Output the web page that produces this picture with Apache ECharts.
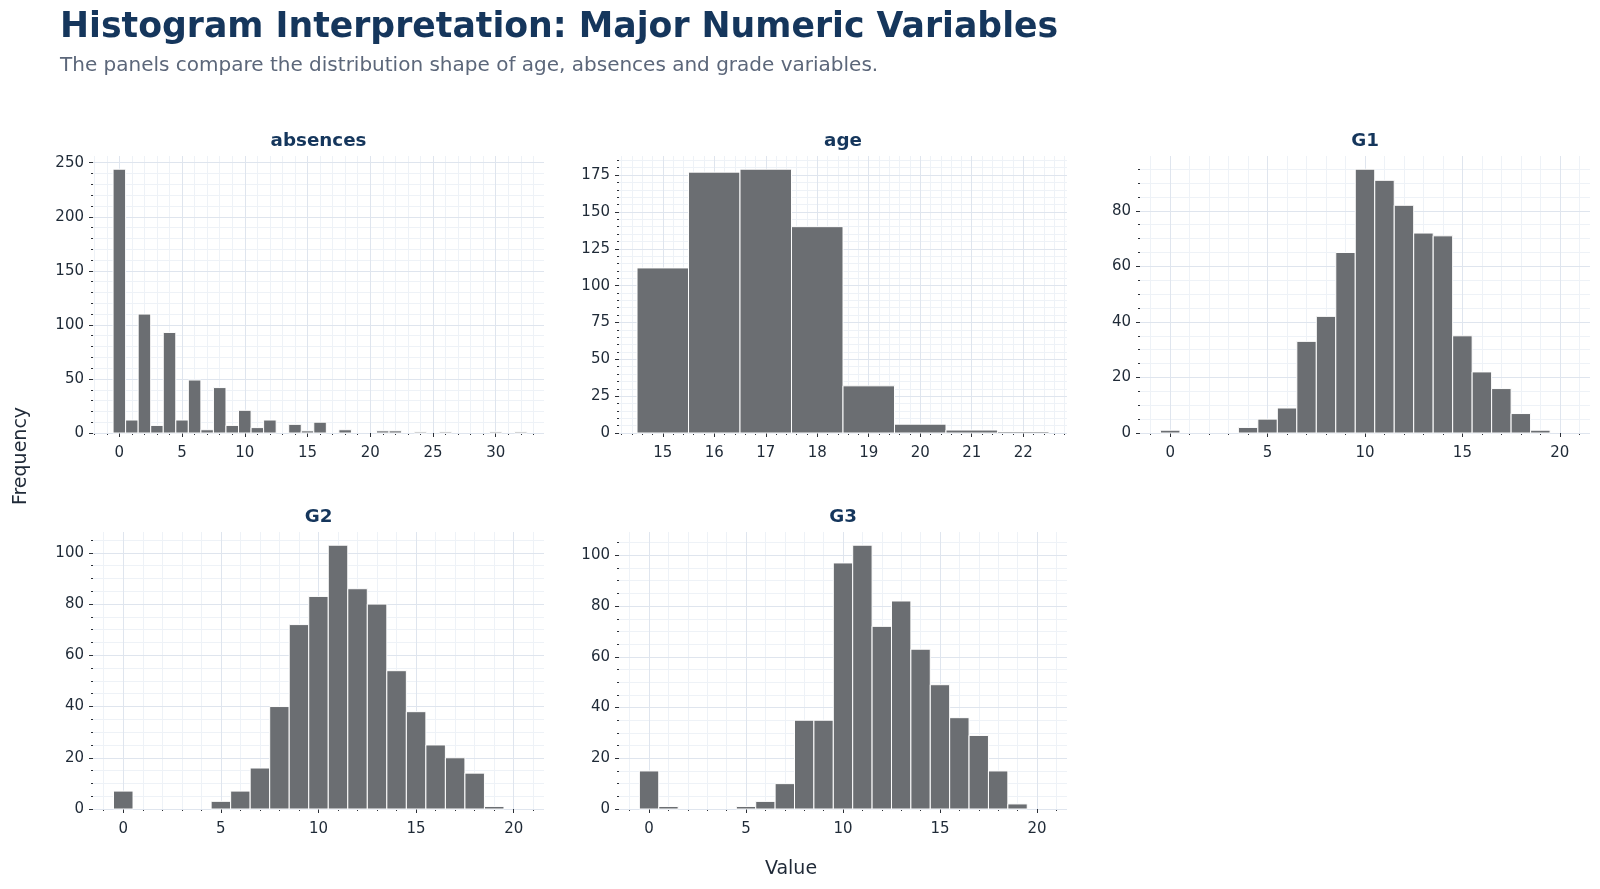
<!DOCTYPE html>
<html>
<head>
<meta charset="utf-8">
<script src="https://cdn.jsdelivr.net/npm/echarts@6/dist/echarts.min.js"></script>
<style>
html, body { margin: 0; padding: 0; background: #fff; }
#chart { width: 1600px; height: 889px; }
</style>
</head>
<body>
<div id="chart"></div>
<script>
// histogram counts, one bin per integer value
const absBins = [0, 1, 2, 3, 4, 5, 6, 7, 8, 9, 10, 11, 12, 13, 14, 15, 16, 17, 18, 19, 20, 21, 22, 23, 24, 25, 26, 27, 28, 29, 30, 31, 32]
const absCounts = [244, 12, 110, 7, 93, 12, 49, 3, 42, 7, 21, 5, 12, 0, 8, 2, 10, 0, 3, 0, 0, 2, 2, 0, 1, 0, 1, 0, 0, 0, 1, 0, 1]
const ageBins = [15, 16, 17, 18, 19, 20, 21, 22]
const ageCounts = [112, 177, 179, 140, 32, 6, 2, 1]
const gradeBins = [0, 1, 2, 3, 4, 5, 6, 7, 8, 9, 10, 11, 12, 13, 14, 15, 16, 17, 18, 19]
const g1Counts = [1, 0, 0, 0, 2, 5, 9, 33, 42, 65, 95, 91, 82, 72, 71, 35, 22, 16, 7, 1]
const g2Counts = [7, 0, 0, 0, 0, 3, 7, 16, 40, 72, 83, 103, 86, 80, 54, 38, 25, 20, 14, 1]
const g3Counts = [15, 1, 0, 0, 0, 1, 3, 10, 35, 35, 97, 104, 72, 82, 63, 49, 36, 29, 15, 2]

// tick labels
const absXTicks = [0, 5, 10, 15, 20, 25, 30]
const absYTicks = [0, 50, 100, 150, 200, 250]
const ageXTicks = [15, 16, 17, 18, 19, 20, 21, 22]
const ageYTicks = [0, 25, 50, 75, 100, 125, 150, 175]
const gradeXTicks = [0, 5, 10, 15, 20]
const g1YTicks = [0, 20, 40, 60, 80]
const g23YTicks = [0, 20, 40, 60, 80, 100]

const FONT = 'DejaVu Sans'
const NAVY = '#15365c'
const BAR = '#6b6e72'
const TICK = '#2b2f36'

// minor tick positions between majors
function minors(from, to, step, majors) {
  const out = []
  for (let v = from; v <= to + 1e-9; v += step) {
    const r = Math.round(v * 100) / 100
    if (majors.indexOf(r) < 0) out.push(r)
  }
  return out
}

const panels = [
  { name: 'absences', bins: absBins, counts: absCounts, left: 93, top: 156, width: 451,
    xMin: -2.1, xMax: 33.85, xTicks: absXTicks, xMinor: minors(-2, 33, 1, absXTicks),
    yTicks: absYTicks, yMinor: minors(0, 250, 10, absYTicks) },
  { name: 'age', bins: ageBins, counts: ageCounts, left: 619, top: 156, width: 448,
    xMin: 14.15, xMax: 22.85, xTicks: ageXTicks, xMinor: minors(14.2, 22.8, 0.2, ageXTicks),
    yTicks: ageYTicks, yMinor: minors(0, 185, 5, ageYTicks) },
  { name: 'G1', bins: gradeBins, counts: g1Counts, left: 1140, top: 156, width: 450,
    xMin: -1.55, xMax: 21.55, xTicks: gradeXTicks, xMinor: minors(-1, 21, 1, gradeXTicks),
    yTicks: g1YTicks, yMinor: minors(0, 95, 5, g1YTicks) },
  { name: 'G2', bins: gradeBins, counts: g2Counts, left: 93, top: 532, width: 451,
    xMin: -1.55, xMax: 21.55, xTicks: gradeXTicks, xMinor: minors(-1, 21, 1, gradeXTicks),
    yTicks: g23YTicks, yMinor: minors(0, 105, 5, g23YTicks) },
  { name: 'G3', bins: gradeBins, counts: g3Counts, left: 619, top: 532, width: 448,
    xMin: -1.55, xMax: 21.55, xTicks: gradeXTicks, xMinor: minors(-1, 21, 1, gradeXTicks),
    yTicks: g23YTicks, yMinor: minors(0, 105, 5, g23YTicks) }
]

function renderBar(params, api) {
  const x = api.value(0)
  const v = api.value(1)
  if (!v) return null
  const p0 = api.coord([x - 0.5, v])
  const p1 = api.coord([x + 0.5, 0])
  return {
    type: 'rect',
    shape: { x: p0[0], y: p0[1], width: p1[0] - p0[0], height: p1[1] - p0[1] },
    style: { fill: BAR, stroke: '#ffffff', lineWidth: 1 }
  }
}

const grid = []
const xAxis = []
const yAxis = []
const series = []
const title = [
  { text: 'Histogram Interpretation: Major Numeric Variables', left: 60, top: 10, padding: 0,
    textStyle: { fontFamily: FONT, fontSize: 34.7, fontWeight: 'bold', color: NAVY } },
  { text: 'The panels compare the distribution shape of age, absences and grade variables.', left: 60, top: 56, padding: 0,
    textStyle: { fontFamily: FONT, fontSize: 20, fontWeight: 'normal', color: '#5c677a' } }
]

panels.forEach((p, i) => {
  const yMax = Math.max.apply(null, p.counts) * 1.05
  grid.push({ left: p.left, top: p.top, width: p.width, height: 277 })
  title.push({
    text: p.name, left: p.left + p.width / 2, top: p.top - 24, padding: 0, textAlign: 'center',
    textStyle: { fontFamily: FONT, fontSize: 18.3, fontWeight: 'bold', color: NAVY }
  })
  // minor axes (grid + short ticks)
  xAxis.push({
    type: 'value', gridIndex: i, position: 'bottom', min: p.xMin, max: p.xMax, z: 0,
    axisLine: { show: false, onZero: false },
    axisTick: { customValues: p.xMinor, length: 2, lineStyle: { color: TICK, width: 1 } },
    axisLabel: { show: false },
    splitLine: { show: true, lineStyle: { color: '#eef2f7', width: 1 } }
  })
  yAxis.push({
    type: 'value', gridIndex: i, position: 'left', min: 0, max: yMax, z: 0,
    axisLine: { show: false, onZero: false },
    axisTick: { customValues: p.yMinor, length: 2, lineStyle: { color: TICK, width: 1 } },
    axisLabel: { show: false },
    splitLine: { show: true, lineStyle: { color: '#eef2f7', width: 1 } }
  })
  // major axes
  xAxis.push({
    type: 'value', gridIndex: i, position: 'bottom', min: p.xMin, max: p.xMax, z: 1,
    axisLine: { show: false, onZero: false },
    axisTick: { customValues: p.xTicks, length: 4, lineStyle: { color: TICK, width: 1 } },
    axisLabel: { customValues: p.xTicks, margin: 13, fontFamily: FONT, fontSize: 15, color: '#1f2a37' },
    splitLine: { show: true, lineStyle: { color: '#dfe5ee', width: 1 } }
  })
  yAxis.push({
    type: 'value', gridIndex: i, position: 'left', min: 0, max: yMax, z: 1,
    axisLine: { show: false, onZero: false },
    axisTick: { customValues: p.yTicks, length: 4, lineStyle: { color: TICK, width: 1 } },
    axisLabel: { customValues: p.yTicks, margin: 9, fontFamily: FONT, fontSize: 15, color: '#1f2a37' },
    splitLine: { show: true, lineStyle: { color: '#dfe5ee', width: 1 } }
  })
  series.push({
    type: 'custom',
    name: p.name,
    xAxisIndex: i * 2 + 1,
    yAxisIndex: i * 2 + 1,
    renderItem: renderBar,
    data: p.bins.map((b, k) => [b, p.counts[k]]),
    z: 3
  })
})

const chart = echarts.init(document.getElementById('chart'))
chart.setOption({
  animation: false,
  backgroundColor: '#ffffff',
  title: title,
  grid: grid,
  xAxis: xAxis,
  yAxis: yAxis,
  series: series,
  graphic: [
    { type: 'text', x: 21, y: 456, rotation: Math.PI / 2,
      style: { text: 'Frequency', fontFamily: FONT, fontSize: 19, fill: '#1f2937', textAlign: 'center', textVerticalAlign: 'middle' } },
    { type: 'text', x: 791, y: 869,
      style: { text: 'Value', fontFamily: FONT, fontSize: 19, fill: '#1f2937', textAlign: 'center', textVerticalAlign: 'middle' } }
  ]
})
</script>
</body>
</html>
